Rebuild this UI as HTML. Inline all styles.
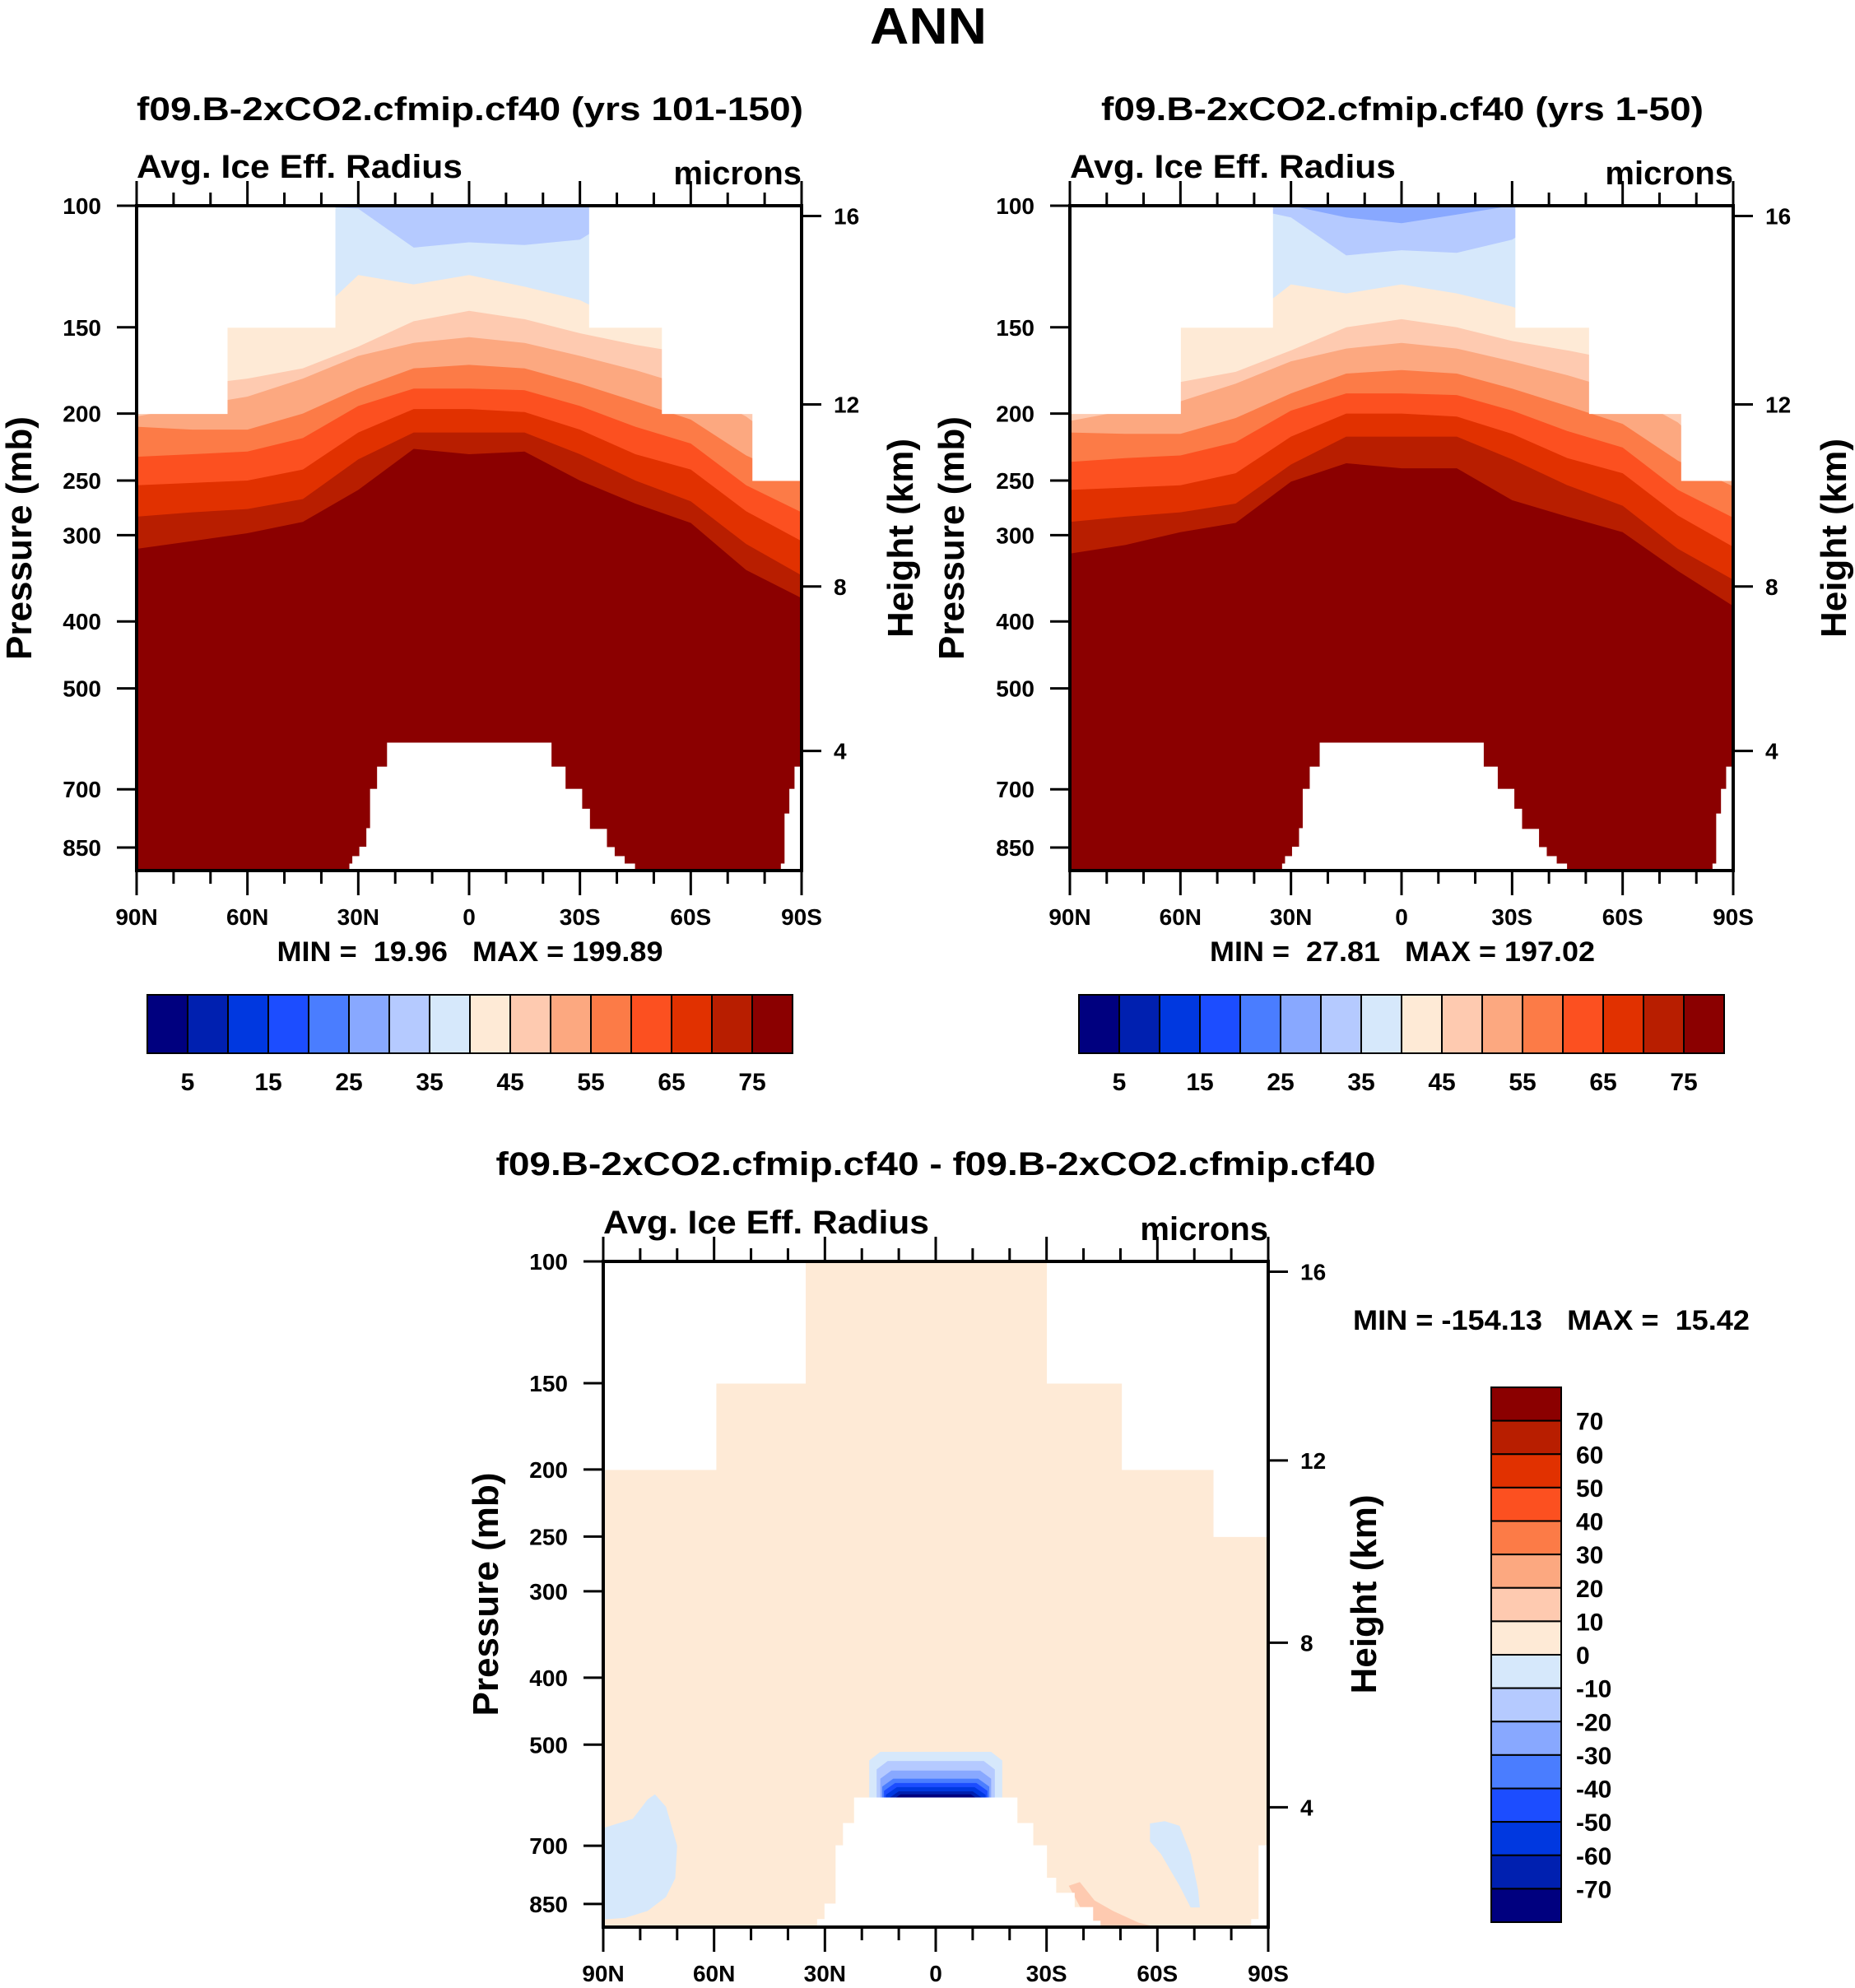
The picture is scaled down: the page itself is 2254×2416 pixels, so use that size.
<!DOCTYPE html>
<html><head><meta charset="utf-8"><style>
html,body{margin:0;padding:0;background:#fff;}
svg{display:block;font-family:"Liberation Sans",sans-serif;font-weight:bold;}
</style></head><body>
<svg id="fig" width="2254" height="2416" viewBox="0 0 2254 2416" xmlns="http://www.w3.org/2000/svg">
<rect width="2254" height="2416" fill="#fff"/>
<text x="1128" y="53" font-size="62" text-anchor="middle" textLength="142" lengthAdjust="spacingAndGlyphs">ANN</text>
<text x="571" y="146" font-size="40" text-anchor="middle" textLength="810" lengthAdjust="spacingAndGlyphs">f09.B-2xCO2.cfmip.cf40 (yrs 101-150)</text>
<text x="1704" y="146" font-size="40" text-anchor="middle" textLength="732" lengthAdjust="spacingAndGlyphs">f09.B-2xCO2.cfmip.cf40 (yrs 1-50)</text>
<text x="1137" y="1428" font-size="40" text-anchor="middle" textLength="1069" lengthAdjust="spacingAndGlyphs">f09.B-2xCO2.cfmip.cf40 - f09.B-2xCO2.cfmip.cf40</text>
<g id="p1"></g>
<g id="p2"></g>
<g id="p3"></g>
<g id="cb"></g>
</svg>
<script>
const NS='http://www.w3.org/2000/svg';
const colors=['#00007f','#0020b0','#0038e0','#1c4dff','#4a7dff','#88a8ff','#b5caff','#d6e8fb','#feead6','#fecab0','#fca880','#fc7b47','#fc5020','#e13100','#b81e00','#8b0000'];
const cbLevels=[5,10,15,20,25,30,35,40,45,50,55,60,65,70,75];
const diffLevels=[70,60,50,40,30,20,10,0,-10,-20,-30,-40,-50,-60,-70];
const bandLats=[90,75,60,45,30,15,0,-15,-30,-45,-60,-75,-90];
const pTicks=[100,150,200,250,300,400,500,700,850];
const hTicksP=[103.5,194,356,616];
const hTickLabels=['16','12','8','4'];
const latTicks=[90,60,30,0,-30,-60,-90];
const latLabels=['90N','60N','30N','0','30S','60S','90S'];
const p1Base=6;
const p1Bounds=[
 [100,100,100,100,101,115,113,114,112,100,100,100,100],
 [100,100,100,150,126,130,126,131,137,150,100,100,100],
 [195,182,178,172,160,147,142,146,153,159,164,190,230],
 [202,195,189,178,165,158,155,158,165,173,183,202,232],
 [209,211,211,200,184,172,170,172,181,192,204,230,250],
 [231,229,227,217,195,184,184,185,195,209,221,254,278],
 [254,252,250,241,213,197,197,199,211,229,241,277,306],
 [282,278,275,266,233,213,213,213,229,250,268,309,343],
 [314,306,298,287,258,225,229,227,250,270,288,337,370]];
const p2Base=5;
const p2Bounds=[
 [100,100,100,100,100,104,106,103,100,100,100,100,100],
 [100,100,100,100,104,118,116,117,112,100,100,100,100],
 [100,100,100,150,130,134,130,134,140,150,100,100,100],
 [200,186,180,174,162,150,146,150,157,162,168,195,238],
 [205,198,192,181,168,161,158,161,168,176,186,206,245],
 [213,214,214,203,187,175,173,175,184,195,207,234,255],
 [235,232,230,220,198,187,187,188,198,212,224,258,283],
 [258,256,254,244,216,200,200,202,214,232,244,281,312],
 [287,282,278,270,237,216,216,216,233,254,272,314,348],
 [319,310,297,288,251,236,240,240,267,282,297,338,380]];
const p1TopMask=[[90,65.5,200],[65.5,36.3,150],[-32.6,-52.3,150],[-52.3,-76.8,200],[-76.8,-90,250]];
const p2TopMask=[[90,60,200],[60,35,150],[-31,-51,150],[-51,-76,200],[-76,-90,250]];
const p3TopMask=[[90,59.5,200],[59.5,35.3,150],[-30.2,-50.5,150],[-50.5,-75.3,200],[-75.3,-90,250]];
const topo12=[[32.3,31.5,898],[31.5,29.6,876],[29.6,27.7,849],[27.7,26.7,798],[26.7,24.8,700],[24.8,22.1,650],[22.1,-22.2,600],[-22.2,-26,650],[-26,-30.5,700],[-30.5,-32.6,748],[-32.6,-37.2,800],[-37.2,-39.3,850],[-39.3,-42,876],[-42,-44.8,898],[-84.5,-85.5,898],[-85.5,-86.8,760],[-86.8,-88.2,700],[-88.2,-90,650]];
const topo3=[[32,30,895],[30,27,850],[27,25,700],[25,22,650],[22,-22,597],[-22,-26.3,650],[-26.3,-30,700],[-30,-32.5,780],[-32.5,-37.5,820],[-37.5,-42.5,860],[-42.5,-44.5,900],[-85.5,-87.5,895],[-87.5,-90,700]];
const p3PatchBlueA=[[90,660],[86,650],[82,640],[78,600],[76,590],[73,615],[70,700],[70.5,780],[73,830],[78,870],[84,890],[90,895]];
const p3PatchBlueB=[[-58,650],[-62,645],[-66,655],[-69,720],[-71,810],[-71.5,860],[-69,860],[-66,800],[-61,720],[-58,690]];
const p3PatchPeach=[[-36,800],[-39,790],[-43,840],[-48,870],[-55,905],[-60,918],[-42,918]];
const blobColors=[7,6,5,4,3,2,1,0];
const blobLat=[18,16,15,14.5,14,13.5,13,12.5];
const blobTopP=[512,528,545,560,568,576,584,590];
const PMAX=918;

function mk(tag,attrs,parent,name){
  const e=document.createElementNS(NS,tag);
  for(const k in attrs)e.setAttribute(k,attrs[k]);
  
  
  parent.appendChild(e);return e;
}
function panel(g,P){
  const xOf=lat=>P.x0+(90-lat)/180*(P.x1-P.x0);
  const yOf=p=>P.y0+Math.log(p/100)/Math.log(PMAX/100)*(P.y1-P.y0);
  const cid='clip'+P.id;
  const defs=mk('defs',{},g,'defs');
  const cp=mk('clipPath',{id:cid},defs,'clip');
  mk('rect',{x:P.x0,y:P.y0,width:P.x1-P.x0,height:P.y1-P.y0},cp,'clip-rect');
  const d=mk('g',{'clip-path':'url(#'+cid+')'},g,'contour-fill');
  mk('rect',{x:P.x0,y:P.y0,width:P.x1-P.x0,height:P.y1-P.y0,fill:colors[P.base]},d,'base-band');
  if(P.bounds){
    P.bounds.forEach((b,k)=>{
      let pts=bandLats.map((lat,i)=>xOf(lat)+','+yOf(b[i]));
      pts.push(xOf(-90)+','+(P.y1+5));pts.push(xOf(90)+','+(P.y1+5));
      mk('polygon',{points:pts.join(' '),fill:colors[Math.min(15,P.base+k+1)]},d,'band-'+(P.base+k+1));
    });
  }
  if(P.patches){
    P.patches.forEach(([ci,arr])=>{
      mk('polygon',{points:arr.map(([la,p])=>xOf(la)+','+yOf(p)).join(' '),fill:colors[ci]},d,'anomaly-patch');
    });
    blobColors.forEach((ci,k)=>{
      const L=blobLat[k],pt=blobTopP[k];
      const pts=[[L,600],[L,pt+15],[L-3,pt],[-(L-3),pt],[-L,pt+15],[-L,600]];
      mk('polygon',{points:pts.map(([la,p])=>xOf(la)+','+yOf(p)).join(' '),fill:colors[ci]},d,'blob-level');
    });
  }
  P.topMask.forEach(([a,b,p])=>mk('rect',{x:xOf(a),y:P.y0,width:xOf(b)-xOf(a),height:yOf(p)-P.y0,fill:'#fff',stroke:'#fff','stroke-width':1},d,'missing-mask'));
  P.topo.forEach(([a,b,p])=>mk('rect',{x:xOf(a),y:yOf(p),width:xOf(b)-xOf(a),height:P.y1-yOf(p)+5,fill:'#fff',stroke:'#fff','stroke-width':1},d,'topography-mask'));
  mk('rect',{x:P.x0,y:P.y0,width:P.x1-P.x0,height:P.y1-P.y0,fill:'none',stroke:'#000','stroke-width':4},g,'plot-frame');
  const ax=mk('g',{stroke:'#000','stroke-width':3},g,'ticks');
  for(let lat=90;lat>=-90;lat-=10){
    const maj=lat%30===0,x=xOf(lat),L=maj?30:16;
    mk('line',{x1:x,y1:P.y1,x2:x,y2:P.y1+L},ax,'x-tick-bottom');
    mk('line',{x1:x,y1:P.y0,x2:x,y2:P.y0-L},ax,'x-tick-top');
  }
  pTicks.forEach(p=>mk('line',{x1:P.x0-24,y1:yOf(p),x2:P.x0,y2:yOf(p)},ax,'y-tick'));
  hTicksP.forEach(p=>mk('line',{x1:P.x1,y1:yOf(p),x2:P.x1+24,y2:yOf(p)},ax,'height-tick'));
  pTicks.forEach(p=>{const t=mk('text',{x:P.x0-43,y:yOf(p)+10,'font-size':28,'text-anchor':'end'},g,'y-tick-label');t.textContent=p;});
  hTicksP.forEach((p,i)=>{const t=mk('text',{x:P.x1+39,y:yOf(p)+10,'font-size':28},g,'height-tick-label');t.textContent=hTickLabels[i];});
  latTicks.forEach((lat,i)=>{const t=mk('text',{x:xOf(lat),y:P.y1+66,'font-size':28,'text-anchor':'middle'},g,'x-tick-label');t.textContent=latLabels[i];});
  let t=mk('text',{x:P.x0,y:P.y0-34,'font-size':40,textLength:396,lengthAdjust:'spacingAndGlyphs'},g,'variable-label');t.textContent='Avg. Ice Eff. Radius';
  t=mk('text',{x:P.x1,y:P.y0-26,'font-size':40,'text-anchor':'end'},g,'units-label');t.textContent='microns';
  const cy=(P.y0+P.y1)/2;
  t=mk('text',{x:P.px,y:cy,'font-size':44,'text-anchor':'middle',transform:`rotate(-90 ${P.px} ${cy})`,dy:15},g,'y-axis-title');t.textContent='Pressure (mb)';
  t=mk('text',{x:P.hx,y:cy,'font-size':44,'text-anchor':'middle',transform:`rotate(-90 ${P.hx} ${cy})`,dy:15},g,'right-axis-title');t.textContent='Height (km)';
  t=mk('text',{x:P.mx,y:P.my,'font-size':34,'text-anchor':P.manchor,style:'white-space:pre',textLength:P.mlen,lengthAdjust:'spacingAndGlyphs'},g,'min-max-label');t.textContent=P.mtext;
}
panel(document.getElementById('p1'),{id:1,x0:166,x1:974,y0:250,y1:1058,base:p1Base,bounds:p1Bounds,topMask:p1TopMask,topo:topo12,px:23,hx:1094,mx:571,my:1168,manchor:'middle',mlen:469,mtext:'MIN =  19.96   MAX = 199.89'});
panel(document.getElementById('p2'),{id:2,x0:1300,x1:2106,y0:250,y1:1058,base:p2Base,bounds:p2Bounds,topMask:p2TopMask,topo:topo12,px:1156,hx:2228,mx:1704,my:1168,manchor:'middle',mlen:468,mtext:'MIN =  27.81   MAX = 197.02'});
panel(document.getElementById('p3'),{id:3,x0:733,x1:1541,y0:1533,y1:2342,base:8,bounds:null,patches:[[7,p3PatchBlueA],[7,p3PatchBlueB],[9,p3PatchPeach]],topMask:p3TopMask,topo:topo3,px:590,hx:1657,mx:1644,my:1616,manchor:'start',mlen:482,mtext:'MIN = -154.13   MAX =  15.42'});

const cb=document.getElementById('cb');
function hbar(x0,x1,y0,y1){
  const w=(x1-x0)/colors.length;
  colors.forEach((c,i)=>mk('rect',{x:x0+i*w,y:y0,width:w,height:y1-y0,fill:c,stroke:'#000','stroke-width':2},cb,'colorbar-box'));
  cbLevels.forEach((v,i)=>{ if(i%2===0){const t=mk('text',{x:x0+(i+1)*w,y:1325,'font-size':30,'text-anchor':'middle'},cb,'colorbar-label');t.textContent=v;}});
}
hbar(179,963,1209,1280);
hbar(1311,2095,1209,1280);
(function(){
  const x0=1812,x1=1897,y0=1686,y1=2336,h=(y1-y0)/colors.length;
  colors.slice().reverse().forEach((c,i)=>mk('rect',{x:x0,y:y0+i*h,width:x1-x0,height:h,fill:c,stroke:'#000','stroke-width':2},cb,'diff-colorbar-box'));
  diffLevels.forEach((v,i)=>{const t=mk('text',{x:1915,y:y0+(i+1)*h+11,'font-size':30},cb,'diff-colorbar-label');t.textContent=v;});
})();
</script>
</body></html>
